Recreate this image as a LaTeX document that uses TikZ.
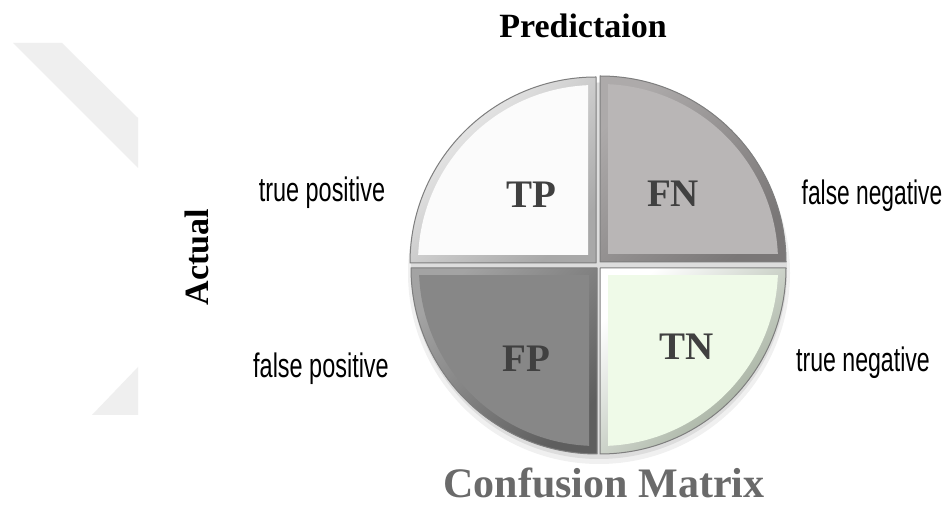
\documentclass[tikz,border=0pt]{standalone}
\usepackage{fontspec}
\setmainfont{Liberation Serif}
\newfontfamily\arialfont{Liberation Sans}
\definecolor{wmark}{HTML}{EFEFEF}
\definecolor{tpface}{HTML}{FBFBFB}
\definecolor{tplight}{HTML}{F2F2F2}
\definecolor{tpdark}{HTML}{A8A8A8}
\definecolor{fnface}{HTML}{B9B6B6}
\definecolor{fnlight}{HTML}{ADAAAA}
\definecolor{fndark}{HTML}{7A7777}
\definecolor{fpface}{HTML}{878787}
\definecolor{fplight}{HTML}{A3A3A3}
\definecolor{fpdark}{HTML}{5E5E5E}
\definecolor{tnface}{HTML}{EFFAE8}
\definecolor{tnlight}{HTML}{FFFFFF}
\definecolor{tndark}{HTML}{98A592}
\definecolor{rimgrey}{HTML}{7E7E7E}
\definecolor{celltext}{HTML}{404040}
\definecolor{titlegrey}{HTML}{6A6A6A}
\def\cmR{186}
\def\cmW{8}
% #1 cx, #2 cy, #3 sx, #4 sy, #5 start angle, #6 face, #7 light, #8 dark
\newcommand\cmquad[8]{%
  \shade[top color=#7, bottom color=#8, shading angle=45]
    (#1,#2) -- ++(#5:\cmR) arc[start angle=#5, delta angle=90, radius=\cmR] -- cycle;
  \begin{scope}
    \clip ({#1+(#3)*\cmW},{#2+(#4)*\cmW}) rectangle ({#1+(#3)*\cmR},{#2+(#4)*\cmR});
    \fill[#6] (#1,#2) circle[radius=\cmR-\cmW];
  \end{scope}
  \draw[rimline] (#1,#2) -- ++(#5:\cmR) arc[start angle=#5, delta angle=90, radius=\cmR] -- cycle;
}
\begin{document}
\begin{tikzpicture}[x=1pt,y=1pt,
  rimline/.style={draw=rimgrey, line width=1pt, line join=round},
  celllabel/.style={font=\bfseries\fontsize{39}{42}\selectfont, text=celltext, anchor=base, inner sep=0pt},
  sidelabel/.style={font=\arialfont\fontsize{34}{38}\selectfont, text=black, anchor=base, inner sep=0pt},
  headlabel/.style={font=\bfseries\fontsize{34}{38}\selectfont, text=black, anchor=base, inner sep=0pt}]
\useasboundingbox (0,0) rectangle (947,518);
\fill[white] (0,0) rectangle (947,518);
% watermark chevron pieces
\fill[wmark] (13,475) -- (62,475) -- (138,400) -- (138,350) -- cycle;
\fill[wmark] (138,151) -- (92,103) -- (138,103) -- cycle;
% soft shadow
\fill[black, opacity=0.06] (599,245) circle[radius=191];
\fill[black, opacity=0.08] (599,247) circle[radius=188];
% quadrants
\cmquad{596}{255}{-1}{1}{90}{tpface}{tplight}{tpdark}
\cmquad{600}{256}{1}{1}{0}{fnface}{fnlight}{fndark}
\cmquad{597}{250}{-1}{-1}{180}{fpface}{fplight}{fpdark}
\cmquad{600}{250}{1}{-1}{270}{tnface}{tnlight}{tndark}
% cell letters
\node[celllabel] (tp) at (531,310) {TP};
\node[celllabel] (fn) at (673,311) {FN};
\node[celllabel] (fp) at (526,146) {FP};
\node[celllabel] (tn) at (687,158) {TN};
% side labels
\node[sidelabel] (ltp) at (322,316) {\scalebox{0.69}[1]{true positive}};
\node[sidelabel] (lfn) at (872,313) {\scalebox{0.67}[1]{false negative}};
\node[sidelabel] (lfp) at (321,140) {\scalebox{0.69}[1]{false positive}};
\node[sidelabel] (ltn) at (863,146) {\scalebox{0.68}[1]{true negative}};
% headings
\node[headlabel] (pred) at (583,480) {Predictaion};
\node[headlabel, rotate=90] (act) at (208,261) {Actual};
\node[font=\bfseries\fontsize{42}{45}\selectfont, text=titlegrey, anchor=base, inner sep=0pt] (title) at (604,20) {Confusion Matrix};
\end{tikzpicture}
\end{document}
